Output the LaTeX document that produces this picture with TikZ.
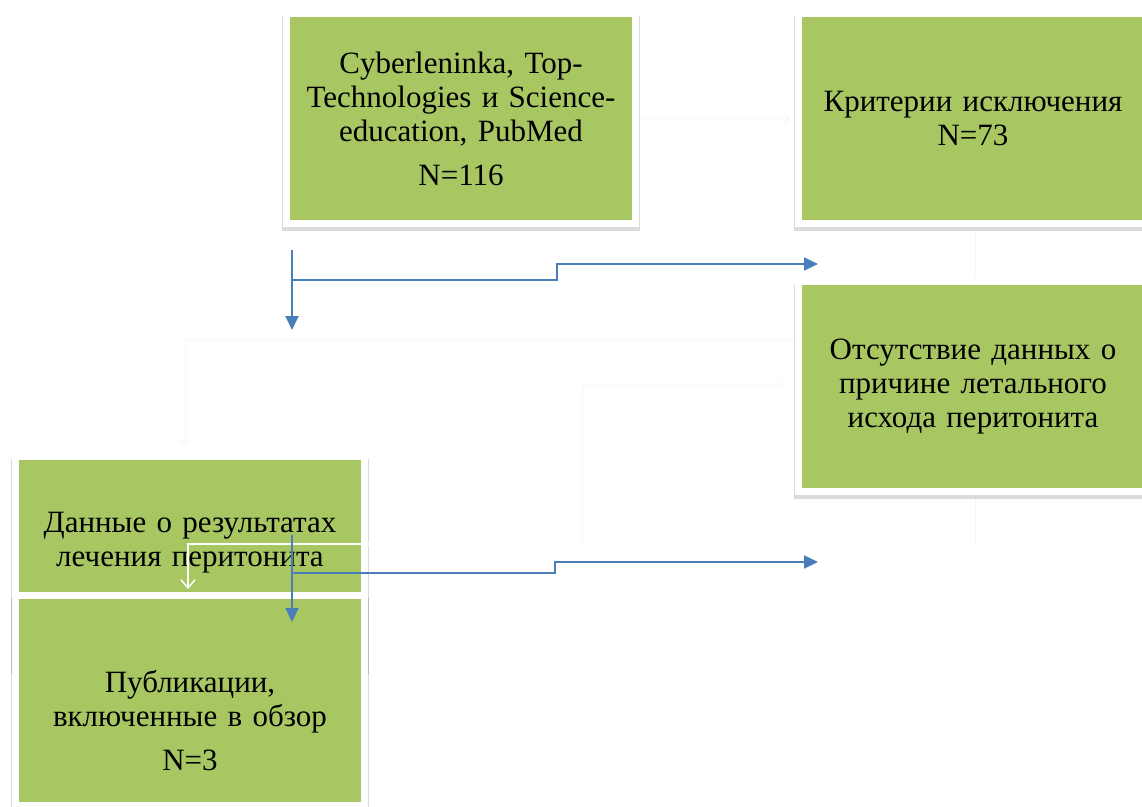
\documentclass[tikz,border=0pt]{standalone}
\usepackage{fontspec}
\setmainfont{Liberation Serif}
\usetikzlibrary{arrows.meta,shadows}
\definecolor{boxgreen}{RGB}{168,199,99}
\definecolor{linkblue}{RGB}{74,126,187}

\begin{document}
\begin{tikzpicture}[x=1pt, y=-1pt,
        % Testo dei blocchi
        blocktext/.style={align=center, text width=336pt, font=\fontsize{31}{34}\selectfont},
        % Blocchi verdi con cornice bianca e ombra
        block/.style={blocktext, rectangle, fill=boxgreen, draw=white, line width=7pt, minimum width=349pt, minimum height=210pt, inner sep=0pt,
            drop shadow={shadow xshift=0pt, shadow yshift=-5pt, shadow scale=1.024, fill=black, opacity=0.14}},
        % Frecce blu
        link/.style={draw=linkblue, line width=2pt, -{Triangle[length=14pt, width=13pt]}},
        % Freccia bianca sopra il blocco
        ghost/.style={draw=white, line width=1.5pt, -{Straight Barb[length=8pt, width=14pt]}},
        % Linee quasi invisibili
        faint/.style={draw=black!3, line width=1pt, -{Straight Barb[length=6pt, width=12pt]}}
    ]
        \useasboundingbox (0,0) rectangle (1142,806);

        % --- LINEE DI SFONDO ---
        \coordinate (F1) at (795,339);
        \coordinate (F1end) at (185,445);
        \coordinate (F2) at (582,545);
        \coordinate (F2end) at (785,385);
        \coordinate (F3) at (640,118);
        \coordinate (F3end) at (790,118);
        \draw[faint] (F1) -| (F1end);
        \draw[faint] (F2) |- (F2end);
        \draw[faint] (F3) -- (F3end);
        \draw[faint, -] (975,228) -- (975,285);
        \draw[faint, -] (975,490) -- (975,545);

        % --- BLOCCHI ---
        \node[block] (src) at (461,118.5) {Cyberleninka, Top-\\Technologies и Science-\\education, PubMed\\[10pt]N=116};
        \node[block] (excl) at (973,118.5) {Критерии исключения\\N=73};
        \node[block] (nodata) at (973,386.5) {Отсутствие данных о\\причине летального\\исхода перитонита};
        \node[block] (results) at (190,561.5) {Данные о результатах\\лечения перитонита\\[10pt]\phantom{N=3}};

        % Freccia bianca
        \coordinate (W1) at (818,544);
        \coordinate (W1end) at (188,589);
        \draw[ghost] (W1) -| (W1end);

        \node[block] (incl) at (190,700) {};
        \node[blocktext] (incltext) at (190,721) {Публикации,\\включенные в обзор\\[10pt]N=3};

        % --- FRECCE BLU ---
        \coordinate (A1) at (292,250);
        \coordinate (A1end) at (292,330);
        \coordinate (A1fork) at (292,280);
        \coordinate (A1tip) at (818,264);
        \draw[link] (A1) -- (A1end);
        \draw[link] (A1fork) -- ++(265,0) |- (A1tip);

        \coordinate (B1) at (292,535);
        \coordinate (B1end) at (292,622);
        \coordinate (B1fork) at (292,573);
        \coordinate (B1tip) at (818,562);
        \draw[link] (B1) -- (B1end);
        \draw[link] (B1fork) -- ++(263,0) |- (B1tip);

    \end{tikzpicture}
\end{document}
